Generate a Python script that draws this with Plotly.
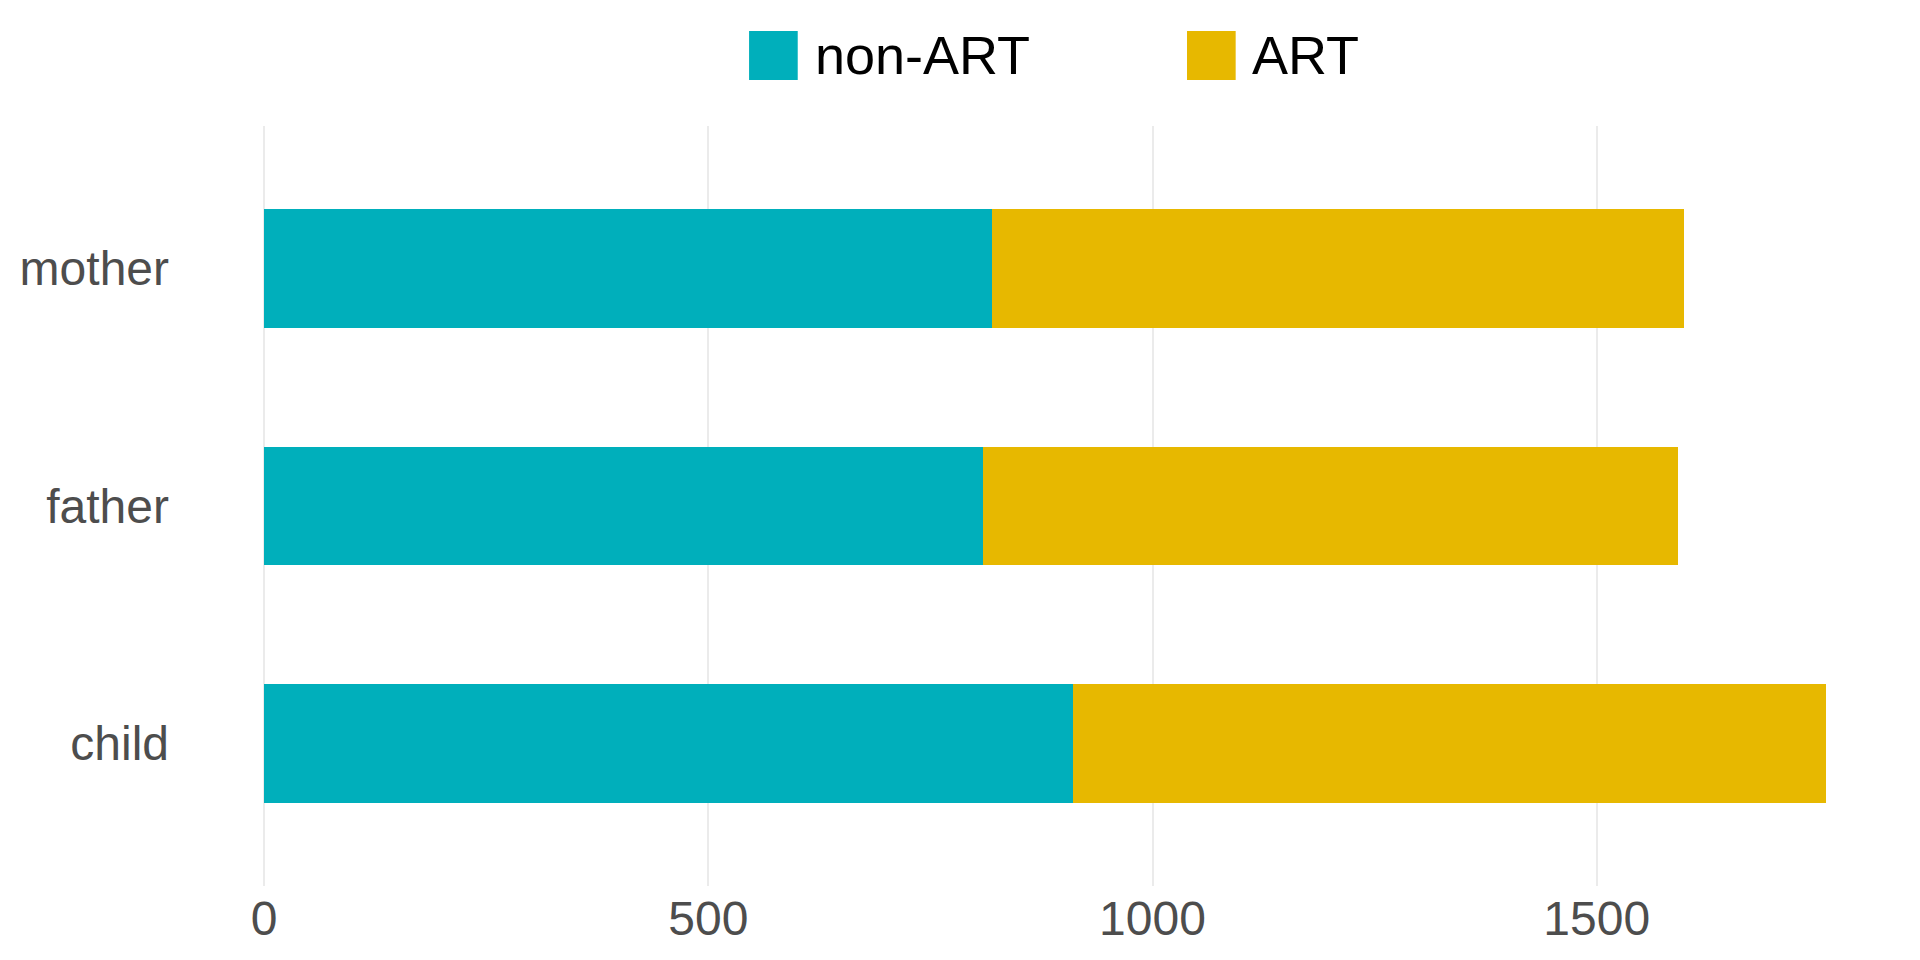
import plotly.graph_objects as go

categories = ["child", "father", "mother"]
non_art = [911, 809, 819]
art = [847, 782, 779]
series_names = ["non-ART", "ART"]
colors = ["#00AFBB", "#E7B800"]
x_ticks = [0, 500, 1000, 1500]

FONT = "Liberation Sans"

fig = go.Figure()
fig.add_trace(go.Bar(y=categories, x=non_art, orientation="h", name=series_names[0],
                     marker=dict(color=colors[0], line=dict(width=0)), width=0.5,
                     showlegend=False))
fig.add_trace(go.Bar(y=categories, x=art, orientation="h", name=series_names[1],
                     marker=dict(color=colors[1], line=dict(width=0)), width=0.5,
                     showlegend=False))

totals = [a + b for a, b in zip(non_art, art)]
xmax = max(totals)
pad = 0.05 * xmax

OFFX, OFFY = 10.5, 8  # page offsets
W, H = 1920 - OFFX, 960 - OFFY
L, R, T, B = 176 - OFFX, 14, 126 - OFFY, 74
pw, ph = W - L - R, H - T - B

def px(x):
    return (x - OFFX - L) / pw

def py(y):
    return (OFFY + T + ph - y) / ph

shapes = []
annotations = []
legend_items = [
    (743, 807, series_names[0], colors[0]),
    (1184, 1247, series_names[1], colors[1]),
]
for kx, tx, name, col in legend_items:
    shapes.append(dict(type="rect", xref="paper", yref="paper",
                       x0=px(kx), x1=px(kx + 49), y0=py(80), y1=py(31),
                       fillcolor=col, line=dict(width=0)))
    annotations.append(dict(xref="paper", yref="paper", x=px(tx), y=py(55),
                            xanchor="left", yanchor="middle", text=name,
                            showarrow=False,
                            font=dict(family=FONT, size=54, color="#000000")))

fig.update_layout(
    barmode="stack",
    width=W, height=H,
    margin=dict(l=L, r=R, t=T, b=B, pad=0),
    paper_bgcolor="white",
    plot_bgcolor="white",
    font=dict(family=FONT, color="#4D4D4D"),
    shapes=shapes,
    annotations=annotations,
    xaxis=dict(range=[-pad, xmax + pad], tickvals=x_ticks,
               ticktext=[str(v) for v in x_ticks],
               showgrid=True, gridcolor="#EBEBEB", gridwidth=2,
               zeroline=False, showline=False, ticks="",
               tickfont=dict(family=FONT, size=48, color="#4D4D4D")),
    yaxis=dict(type="category", categoryorder="array", categoryarray=categories,
               range=[-0.6, 2.6], showgrid=False, zeroline=False,
               showline=False, ticks="", ticklabelstandoff=16,
               tickfont=dict(family=FONT, size=48, color="#4D4D4D")),
    showlegend=False,
)

fig.write_html("out.html")
